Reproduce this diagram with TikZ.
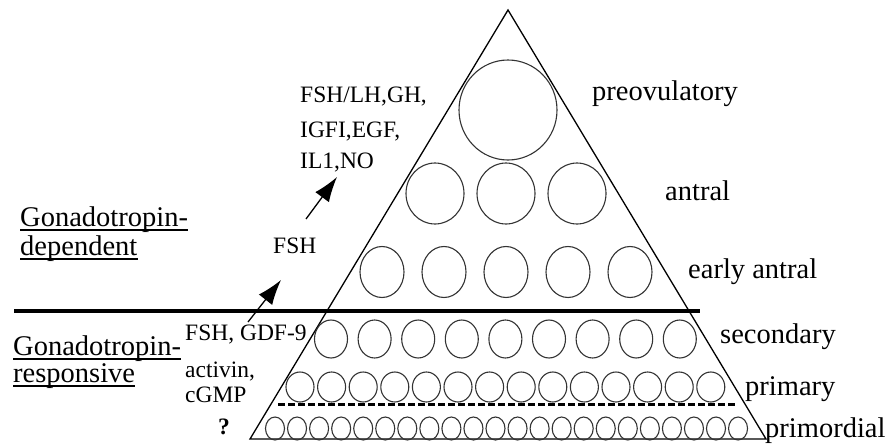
\documentclass[tikz,border=0pt]{standalone}
\usepackage{fontspec}
\setmainfont{Liberation Serif}
\usetikzlibrary{arrows.meta}
\begin{document}
\begin{tikzpicture}[x=1pt,y=-1pt,
  big/.style={font=\fontsize{28.5}{30}\selectfont, inner sep=0pt, anchor=base west},
  small/.style={font=\fontsize{23.5}{25}\selectfont, inner sep=0pt, anchor=base west},
  circ/.style={draw=black!80, line width=1.1pt},
  edge/.style={line width=1.3pt},
  arr/.style={line width=1.3pt, -{Latex[length=25pt,width=17pt]}},
  uline/.style={line width=1.2pt}]
\useasboundingbox (0,0) rectangle (888,444);
% triangle
\coordinate (apex) at (508,10);
\coordinate (bl) at (250,439);
\coordinate (br) at (766,439);
\draw[edge] (apex) -- (br) -- (bl) -- cycle;
% thick divider and dashed line
\coordinate (t1) at (14,311); \coordinate (t2) at (700,311);
\draw[line width=4.5pt] (t1) -- (t2);
\coordinate (d1) at (278,404); \coordinate (d2) at (738,404);
\draw[line width=3pt, dash pattern=on 7pt off 3pt] (d1) -- (d2);
% follicles
\draw[circ] (508,110) ellipse [x radius=49, y radius=50];
\foreach \x in {435,506,577} \draw[circ] (\x,193.5) ellipse [x radius=29, y radius=30.5];
\foreach \i in {0,...,4} \draw[circ] (382+62*\i,272) ellipse [x radius=22, y radius=25.5];
\foreach \i in {0,...,8} \draw[circ] (331+43.6*\i,339) ellipse [x radius=16.5, y radius=19];
\foreach \i in {0,...,13} \draw[circ] (300+31.6*\i,387) ellipse [x radius=14, y radius=15];
\foreach \i in {0,...,21} \draw[circ] (275+22.05*\i,428.5) ellipse [x radius=9.5, y radius=11.5];
% stage labels
\node[big] (preov) at (592,100) {preovulatory};
\node[big] (antral) at (665,200) {antral};
\node[big] (early) at (688,278) {early antral};
\node[big] (second) at (720,343) {secondary};
\node[big] (prim) at (745,395) {primary};
\node[big] (primord) at (765,437) {primordial};
% left labels
\node[big] (gd1) at (20,226) {Gonadotropin-};
\node[big] (gd2) at (20,255) {dependent};
\node[big] (gr1) at (13,355) {Gonadotropin-};
\node[big] (gr2) at (13,382) {responsive};
\foreach \n in {gd1,gd2,gr1,gr2}
  \draw[uline] ([yshift=-4pt]\n.base west) -- ([yshift=-4pt]\n.base east);
% factor labels
\node[small] (f1) at (300,102) {FSH/LH,GH,};
\node[small] (f2) at (300,137) {IGFI,EGF,};
\node[small] (f3) at (300,168) {IL1,NO};
\node[small] (fsh) at (273,253) {FSH};
\node[small] (g1) at (185,340) {FSH, GDF-9};
\node[small] (g2) at (185,377) {activin,};
\node[small] (g3) at (185,402) {cGMP};
\node[small,font=\fontsize{23.5}{25}\selectfont\bfseries] (q) at (218,434) {?};
% arrows
\coordinate (a1s) at (306,219); \coordinate (a1e) at (337,177);
\draw[arr] (a1s) -- (a1e);
\coordinate (a2s) at (248,322); \coordinate (a2e) at (281,280);
\draw[arr] (a2s) -- (a2e);
\end{tikzpicture}
\end{document}
